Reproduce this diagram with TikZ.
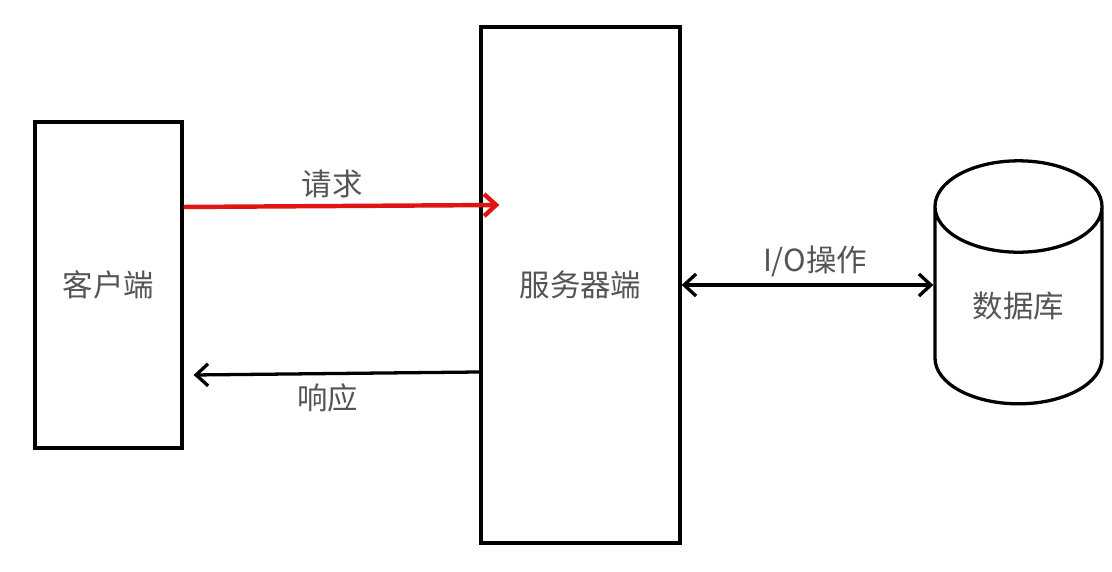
\documentclass[tikz,border=0pt]{standalone}
\usepackage{fontspec}
\setmainfont{Noto Sans CJK SC}
\usetikzlibrary{shapes.geometric,arrows.meta}
\definecolor{txtgray}{RGB}{85,85,85}
\definecolor{reqred}{RGB}{225,20,20}
\tikzstyle{box}=[draw,line width=2.8pt,inner sep=0pt]
\tikzstyle{lbl}=[text=txtgray,font=\fontsize{26}{30}\selectfont]
\tikzstyle{conn}=[line width=2.8pt,arrows={-Straight Barb[length=3.6mm,width=6.6mm]}]

\begin{document}
\begin{tikzpicture}[x=0.03cm,y=0.03cm]
\useasboundingbox[fill=white] (0,0) rectangle (1112,572);
\node[box,minimum width=4.41cm,minimum height=9.78cm,lbl] (Cli) at (108.5,287) {客户端};
\node[box,minimum width=5.97cm,minimum height=15.48cm,lbl] (Srv) at (580.5,287) {服务器端};
\node[box,cylinder,shape border rotate=90,aspect=1,minimum width=5.01cm,minimum height=7.29cm,lbl] (DB) at (1018.5,266) {数据库};
\draw[conn,draw=reqred,line width=3.8pt] ([yshift=2.34cm]Cli.east) -- node[lbl,above=2pt,pos=0.47]{请求} ([xshift=0.6cm,yshift=2.4cm]Srv.west);
\draw[conn] ([yshift=-2.61cm]Srv.west) -- node[lbl,below=4pt,pos=0.53]{响应} ([xshift=0.3cm,yshift=-2.7cm]Cli.east);
\draw[conn,arrows={Straight Barb[length=3.6mm,width=6.6mm]-Straight Barb[length=3.6mm,width=6.6mm]}] (Srv.east) -- node[lbl,above=2pt,pos=0.53]{I/O操作} (Srv.east -| DB.west);
\end{tikzpicture}
\end{document}
